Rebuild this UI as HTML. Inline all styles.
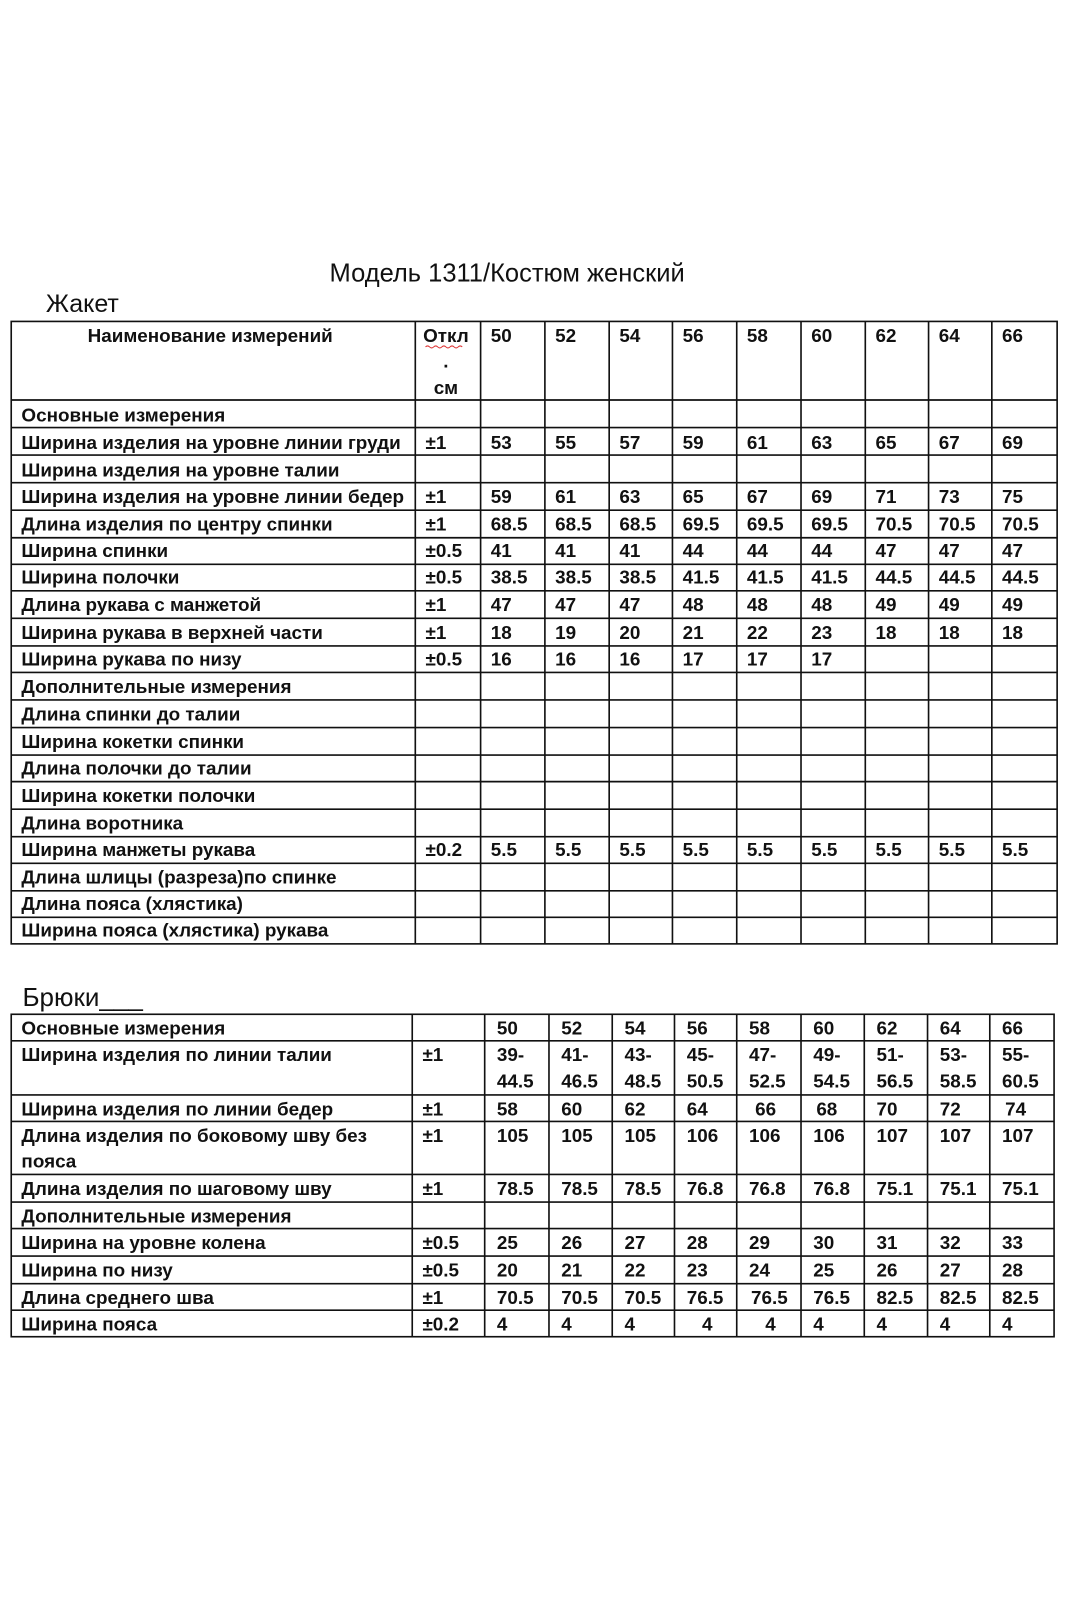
<!DOCTYPE html>
<html><head><meta charset="utf-8"><style>
html,body{margin:0;padding:0;background:#fff;width:1066px;height:1600px;overflow:hidden}
svg text{font-family:"Liberation Sans","DejaVu Sans",sans-serif;font-weight:bold;font-size:18.5px;fill:#111}
svg .n{font-weight:normal}
</style></head><body>
<svg width="1066" height="1600" viewBox="0 0 1066 1600" xmlns="http://www.w3.org/2000/svg">
<g transform="scale(1.0204)">
<text class="n" x="497" y="276" text-anchor="middle" style="font-size:25px">Модель 1311/Костюм женский</text>
<text class="n" x="45" y="306" style="font-size:24.5px">Жакет</text>
<g stroke="#111" stroke-width="1.6" fill="none">
<rect x="11" y="315" width="1025" height="610"/>
<path d="M407 315V925M471 315V925M534 315V925M597 315V925M659 315V925M722 315V925M785 315V925M848 315V925M910 315V925M972 315V925"/>
<path d="M11 392H1036M11 419H1036M11 446H1036M11 473H1036M11 500H1036M11 527H1036M11 553H1036M11 579H1036M11 606H1036M11 633H1036M11 659H1036M11 686H1036M11 713H1036M11 740H1036M11 766H1036M11 793H1036M11 820H1036M11 846H1036M11 873H1036M11 899H1036"/>
</g>
<text x="206" y="335" text-anchor="middle">Наименование измерений</text>
<text x="437" y="335" text-anchor="middle">Откл</text>
<path d="M417 340q2-2 4 0t4 0t4 0t4 0t4 0t4 0t4 0t4 0t4 0" stroke="#d33" fill="none" stroke-width="1"/>
<text x="437" y="360" text-anchor="middle">.</text>
<text x="437" y="386" text-anchor="middle">см</text>
<text y="335"><tspan x="481">50</tspan><tspan x="544">52</tspan><tspan x="607">54</tspan><tspan x="669">56</tspan><tspan x="732">58</tspan><tspan x="795">60</tspan><tspan x="858">62</tspan><tspan x="920">64</tspan><tspan x="982">66</tspan></text>
<text x="21" y="413">Основные измерения</text>
<text x="21" y="440">Ширина изделия на уровне линии груди</text>
<text y="440"><tspan x="417">±1</tspan><tspan x="481">53</tspan><tspan x="544">55</tspan><tspan x="607">57</tspan><tspan x="669">59</tspan><tspan x="732">61</tspan><tspan x="795">63</tspan><tspan x="858">65</tspan><tspan x="920">67</tspan><tspan x="982">69</tspan></text>
<text x="21" y="467">Ширина изделия на уровне  талии</text>
<text x="21" y="493">Ширина изделия на уровне линии бедер</text>
<text y="493"><tspan x="417">±1</tspan><tspan x="481">59</tspan><tspan x="544">61</tspan><tspan x="607">63</tspan><tspan x="669">65</tspan><tspan x="732">67</tspan><tspan x="795">69</tspan><tspan x="858">71</tspan><tspan x="920">73</tspan><tspan x="982">75</tspan></text>
<text x="21" y="520">Длина изделия по центру спинки</text>
<text y="520"><tspan x="417">±1</tspan><tspan x="481">68.5</tspan><tspan x="544">68.5</tspan><tspan x="607">68.5</tspan><tspan x="669">69.5</tspan><tspan x="732">69.5</tspan><tspan x="795">69.5</tspan><tspan x="858">70.5</tspan><tspan x="920">70.5</tspan><tspan x="982">70.5</tspan></text>
<text x="21" y="546">Ширина спинки</text>
<text y="546"><tspan x="417">±0.5</tspan><tspan x="481">41</tspan><tspan x="544">41</tspan><tspan x="607">41</tspan><tspan x="669">44</tspan><tspan x="732">44</tspan><tspan x="795">44</tspan><tspan x="858">47</tspan><tspan x="920">47</tspan><tspan x="982">47</tspan></text>
<text x="21" y="572">Ширина полочки</text>
<text y="572"><tspan x="417">±0.5</tspan><tspan x="481">38.5</tspan><tspan x="544">38.5</tspan><tspan x="607">38.5</tspan><tspan x="669">41.5</tspan><tspan x="732">41.5</tspan><tspan x="795">41.5</tspan><tspan x="858">44.5</tspan><tspan x="920">44.5</tspan><tspan x="982">44.5</tspan></text>
<text x="21" y="599">Длина рукава с манжетой</text>
<text y="599"><tspan x="417">±1</tspan><tspan x="481">47</tspan><tspan x="544">47</tspan><tspan x="607">47</tspan><tspan x="669">48</tspan><tspan x="732">48</tspan><tspan x="795">48</tspan><tspan x="858">49</tspan><tspan x="920">49</tspan><tspan x="982">49</tspan></text>
<text x="21" y="626">Ширина рукава в верхней части</text>
<text y="626"><tspan x="417">±1</tspan><tspan x="481">18</tspan><tspan x="544">19</tspan><tspan x="607">20</tspan><tspan x="669">21</tspan><tspan x="732">22</tspan><tspan x="795">23</tspan><tspan x="858">18</tspan><tspan x="920">18</tspan><tspan x="982">18</tspan></text>
<text x="21" y="652">Ширина рукава по низу</text>
<text y="652"><tspan x="417">±0.5</tspan><tspan x="481">16</tspan><tspan x="544">16</tspan><tspan x="607">16</tspan><tspan x="669">17</tspan><tspan x="732">17</tspan><tspan x="795">17</tspan></text>
<text x="21" y="679">Дополнительные измерения</text>
<text x="21" y="706">Длина спинки до талии</text>
<text x="21" y="733">Ширина кокетки спинки</text>
<text x="21" y="759">Длина полочки до талии</text>
<text x="21" y="786">Ширина кокетки полочки</text>
<text x="21" y="813">Длина воротника</text>
<text x="21" y="839">Ширина манжеты рукава</text>
<text y="839"><tspan x="417">±0.2</tspan><tspan x="481">5.5</tspan><tspan x="544">5.5</tspan><tspan x="607">5.5</tspan><tspan x="669">5.5</tspan><tspan x="732">5.5</tspan><tspan x="795">5.5</tspan><tspan x="858">5.5</tspan><tspan x="920">5.5</tspan><tspan x="982">5.5</tspan></text>
<text x="21" y="866">Длина шлицы (разреза)по спинке</text>
<text x="21" y="892">Длина пояса (хлястика)</text>
<text x="21" y="918">Ширина пояса (хлястика) рукава</text>

<text class="n" x="22" y="986" style="font-size:25.5px">Брюки___</text>
<g stroke="#111" stroke-width="1.6" fill="none">
<rect x="11" y="994" width="1022" height="316"/>
<path d="M404 994V1310M475 994V1310M538 994V1310M600 994V1310M661 994V1310M722 994V1310M785 994V1310M847 994V1310M909 994V1310M970 994V1310"/>
<path d="M11 1020H1033M11 1073H1033M11 1099H1033M11 1151H1033M11 1178H1033M11 1204H1033M11 1231H1033M11 1258H1033M11 1284H1033"/>
</g>
<text x="21" y="1014">Основные измерения</text>
<text y="1014"><tspan x="487">50</tspan><tspan x="550">52</tspan><tspan x="612">54</tspan><tspan x="673">56</tspan><tspan x="734">58</tspan><tspan x="797">60</tspan><tspan x="859">62</tspan><tspan x="921">64</tspan><tspan x="982">66</tspan></text>
<text x="21" y="1040">Ширина изделия по линии талии</text>
<text y="1040"><tspan x="414">±1</tspan><tspan x="487">39-</tspan><tspan x="550">41-</tspan><tspan x="612">43-</tspan><tspan x="673">45-</tspan><tspan x="734">47-</tspan><tspan x="797">49-</tspan><tspan x="859">51-</tspan><tspan x="921">53-</tspan><tspan x="982">55-</tspan></text>
<text y="1066"><tspan x="487">44.5</tspan><tspan x="550">46.5</tspan><tspan x="612">48.5</tspan><tspan x="673">50.5</tspan><tspan x="734">52.5</tspan><tspan x="797">54.5</tspan><tspan x="859">56.5</tspan><tspan x="921">58.5</tspan><tspan x="982">60.5</tspan></text>
<text x="21" y="1093">Ширина изделия по линии  бедер</text>
<text y="1093"><tspan x="414">±1</tspan><tspan x="487">58</tspan><tspan x="550">60</tspan><tspan x="612">62</tspan><tspan x="673">64</tspan><tspan x="740">66</tspan><tspan x="800">68</tspan><tspan x="859">70</tspan><tspan x="921">72</tspan><tspan x="985">74</tspan></text>
<text x="21" y="1119">Длина изделия по боковому шву без</text>
<text x="21" y="1144">пояса</text>
<text y="1119"><tspan x="414">±1</tspan><tspan x="487">105</tspan><tspan x="550">105</tspan><tspan x="612">105</tspan><tspan x="673">106</tspan><tspan x="734">106</tspan><tspan x="797">106</tspan><tspan x="859">107</tspan><tspan x="921">107</tspan><tspan x="982">107</tspan></text>
<text x="21" y="1171">Длина изделия по шаговому шву</text>
<text y="1171"><tspan x="414">±1</tspan><tspan x="487">78.5</tspan><tspan x="550">78.5</tspan><tspan x="612">78.5</tspan><tspan x="673">76.8</tspan><tspan x="734">76.8</tspan><tspan x="797">76.8</tspan><tspan x="859">75.1</tspan><tspan x="921">75.1</tspan><tspan x="982">75.1</tspan></text>
<text x="21" y="1198">Дополнительные измерения</text>
<text x="21" y="1224">Ширина на уровне колена</text>
<text y="1224"><tspan x="414">±0.5</tspan><tspan x="487">25</tspan><tspan x="550">26</tspan><tspan x="612">27</tspan><tspan x="673">28</tspan><tspan x="734">29</tspan><tspan x="797">30</tspan><tspan x="859">31</tspan><tspan x="921">32</tspan><tspan x="982">33</tspan></text>
<text x="21" y="1251">Ширина по низу</text>
<text y="1251"><tspan x="414">±0.5</tspan><tspan x="487">20</tspan><tspan x="550">21</tspan><tspan x="612">22</tspan><tspan x="673">23</tspan><tspan x="734">24</tspan><tspan x="797">25</tspan><tspan x="859">26</tspan><tspan x="921">27</tspan><tspan x="982">28</tspan></text>
<text x="21" y="1278">Длина среднего шва</text>
<text y="1278"><tspan x="414">±1</tspan><tspan x="487">70.5</tspan><tspan x="550">70.5</tspan><tspan x="612">70.5</tspan><tspan x="673">76.5</tspan><tspan x="736">76.5</tspan><tspan x="797">76.5</tspan><tspan x="859">82.5</tspan><tspan x="921">82.5</tspan><tspan x="982">82.5</tspan></text>
<text x="21" y="1304">Ширина пояса</text>
<text y="1304"><tspan x="414">±0.2</tspan><tspan x="487">4</tspan><tspan x="550">4</tspan><tspan x="612">4</tspan><tspan x="688">4</tspan><tspan x="750">4</tspan><tspan x="797">4</tspan><tspan x="859">4</tspan><tspan x="921">4</tspan><tspan x="982">4</tspan></text>
</g>
</svg>
</body></html>
